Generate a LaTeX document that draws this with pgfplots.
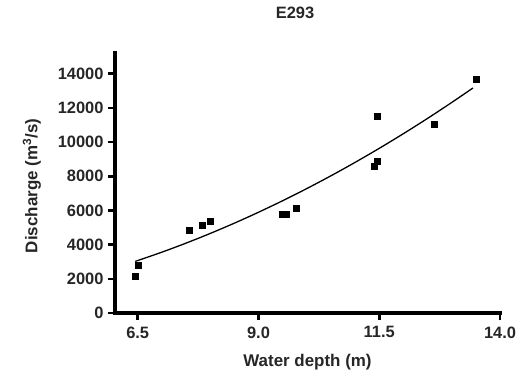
\documentclass[border=0pt]{standalone}
\usepackage{pgfplots}
\pgfplotsset{compat=1.18}
\usepackage{fontspec}
\setmainfont{Liberation Sans}
\begin{document}
\begin{tikzpicture}
\path[use as bounding box] (-115bp,-61bp) rectangle (406bp,313bp);
\begin{axis}[
  scale only axis,
  width=385bp, height=260bp,
  xmin=6.03, xmax=14.0,
  ymin=0, ymax=15213,
  axis x line*=bottom, axis y line*=left,
  axis line style={-, line width=4bp, line cap=rect},
  tick style={line width=2.6bp, black},
  major tick length=7bp,
  tick align=outside,
  xtick={6.5,9,11.5,14}, xticklabels={6.5,9.0,11.5,14.0},
  ytick={0,2000,4000,6000,8000,10000,12000,14000},
  scaled y ticks=false,
  /pgf/number format/1000 sep={},
  /pgf/number format/assume math mode=true,
  ticklabel style={font=\bfseries\fontsize{16.5}{19}\selectfont, text=black!85},
  yticklabel style={xshift=-1bp},
  xticklabel style={yshift=-3bp},
  title={E293},
  title style={at={(axis description cs:0.4675,1)}, anchor=center, yshift=34bp, font=\bfseries\fontsize{16.5}{19}\selectfont, text=black!85},
  xlabel={Water depth (m)},
  ylabel={Discharge (m\textsuperscript{3}/s)},
  every axis x label/.style={at={(axis description cs:0.5,0)}, anchor=center, yshift=-49bp, font=\bfseries\fontsize{17}{20}\selectfont, text=black!85},
  every axis y label/.style={at={(axis description cs:0,0.5)}, rotate=90, anchor=center, yshift=83bp, xshift=-3bp, font=\bfseries\fontsize{17}{20}\selectfont, text=black!85},
  clip=false,
]
\addplot[only marks, mark=square*, mark size=3bp, black] coordinates {
  (6.445,2142) (6.50,2826) (7.57,4834) (7.83,5126) (8.00,5400)
  (9.50,5790) (9.57,5790) (9.78,6143)
  (11.40,8578) (11.45,8870) (11.45,11504) (12.63,11018) (13.50,13692)
};
\addplot[black, line width=1.3bp, smooth] coordinates {
  (6.45,3020) (7.0,3559) (7.5,4088) (8.0,4653) (8.5,5255) (9.0,5894)
  (9.5,6569) (10.0,7280) (10.5,8028) (11.0,8813) (11.5,9634)
  (12.0,10492) (12.5,11386) (13.0,12317) (13.44,13166)
};
\end{axis}
\end{tikzpicture}
\end{document}
